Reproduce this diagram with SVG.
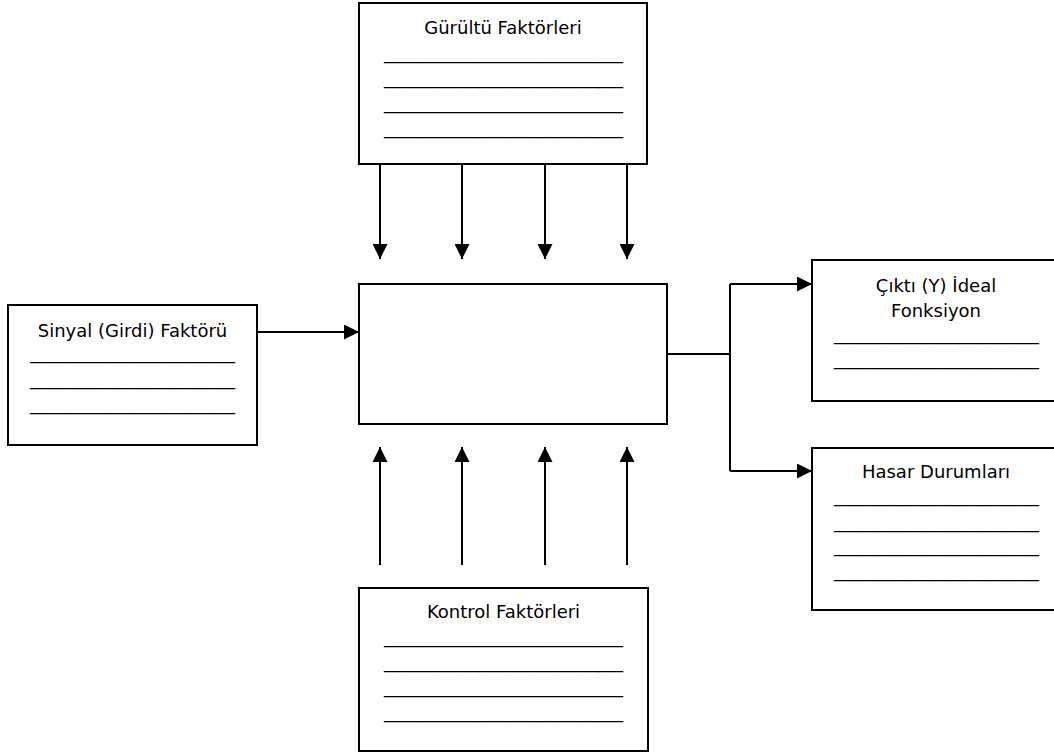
<svg xmlns="http://www.w3.org/2000/svg" width="1054" height="753" viewBox="0 0 1054 753">
<style>
.box{fill:#fff;stroke:#000;stroke-width:2}
.t{font-family:"DejaVu Sans","Liberation Sans",sans-serif;font-size:18px;fill:#000;text-anchor:middle}
.u{font-family:"DejaVu Sans","Liberation Sans",sans-serif;font-size:15px;fill:#000}
.c{fill:none;stroke:#000;stroke-width:2}
</style>
<defs>
<marker id="ah2" viewBox="0 0 16 16" refX="16" refY="8" markerWidth="15" markerHeight="15" markerUnits="userSpaceOnUse" orient="auto">
<path d="M0,0 L16,8 L0,16 z" fill="#000"/>
</marker>
</defs>
<rect width="1054" height="753" fill="#fff"/>
<g id="noise">
<rect class="box" x="359" y="3" width="288" height="161"/>
<text class="t" x="503" y="34">Gürültü Faktörleri</text>
<text class="u" x="384" y="59" textLength="239" lengthAdjust="spacingAndGlyphs">____________________</text>
<text class="u" x="384" y="84" textLength="239" lengthAdjust="spacingAndGlyphs">____________________</text>
<text class="u" x="384" y="109" textLength="239" lengthAdjust="spacingAndGlyphs">____________________</text>
<text class="u" x="384" y="134" textLength="239" lengthAdjust="spacingAndGlyphs">____________________</text>
</g>
<g id="system">
<rect class="box" x="359" y="284" width="308" height="140"/>
</g>
<g id="signal">
<rect class="box" x="8" y="305" width="249" height="140"/>
<text class="t" x="132.5" y="337">Sinyal (Girdi) Faktörü</text>
<text class="u" x="30" y="359" textLength="205" lengthAdjust="spacingAndGlyphs">__________________</text>
<text class="u" x="30" y="385" textLength="205" lengthAdjust="spacingAndGlyphs">__________________</text>
<text class="u" x="30" y="410" textLength="205" lengthAdjust="spacingAndGlyphs">__________________</text>
</g>
<g id="output">
<rect class="box" x="812" y="260" width="260" height="141"/>
<text class="t" x="936" y="292">Çıktı (Y) İdeal</text>
<text class="t" x="936" y="317">Fonksiyon</text>
<text class="u" x="834" y="340" textLength="205" lengthAdjust="spacingAndGlyphs">__________________</text>
<text class="u" x="834" y="365" textLength="205" lengthAdjust="spacingAndGlyphs">__________________</text>
</g>
<g id="failure">
<rect class="box" x="812" y="448" width="260" height="162"/>
<text class="t" x="936" y="478">Hasar Durumları</text>
<text class="u" x="834" y="502" textLength="205" lengthAdjust="spacingAndGlyphs">__________________</text>
<text class="u" x="834" y="528" textLength="205" lengthAdjust="spacingAndGlyphs">__________________</text>
<text class="u" x="834" y="552" textLength="205" lengthAdjust="spacingAndGlyphs">__________________</text>
<text class="u" x="834" y="577" textLength="205" lengthAdjust="spacingAndGlyphs">__________________</text>
</g>
<g id="control">
<rect class="box" x="359" y="588" width="289" height="163"/>
<text class="t" x="503.5" y="618">Kontrol Faktörleri</text>
<text class="u" x="384" y="643" textLength="239" lengthAdjust="spacingAndGlyphs">____________________</text>
<text class="u" x="384" y="668" textLength="239" lengthAdjust="spacingAndGlyphs">____________________</text>
<text class="u" x="384" y="693" textLength="239" lengthAdjust="spacingAndGlyphs">____________________</text>
<text class="u" x="384" y="718" textLength="239" lengthAdjust="spacingAndGlyphs">____________________</text>
</g>
<g id="connectors">
<line class="c" x1="380" y1="164" x2="380" y2="259" marker-end="url(#ah2)"/>
<line class="c" x1="462" y1="164" x2="462" y2="259" marker-end="url(#ah2)"/>
<line class="c" x1="545" y1="164" x2="545" y2="259" marker-end="url(#ah2)"/>
<line class="c" x1="627" y1="164" x2="627" y2="259" marker-end="url(#ah2)"/>
<line class="c" x1="380" y1="565" x2="380" y2="447" marker-end="url(#ah2)"/>
<line class="c" x1="462" y1="565" x2="462" y2="447" marker-end="url(#ah2)"/>
<line class="c" x1="545" y1="565" x2="545" y2="447" marker-end="url(#ah2)"/>
<line class="c" x1="627" y1="565" x2="627" y2="447" marker-end="url(#ah2)"/>
<line class="c" x1="257" y1="332" x2="359" y2="332" marker-end="url(#ah2)"/>
<polyline class="c" points="667,354 730,354"/>
<polyline class="c" points="730,284 730,471"/>
<line class="c" x1="730" y1="284" x2="812" y2="284" marker-end="url(#ah2)"/>
<line class="c" x1="730" y1="471" x2="812" y2="471" marker-end="url(#ah2)"/>
</g>
</svg>
